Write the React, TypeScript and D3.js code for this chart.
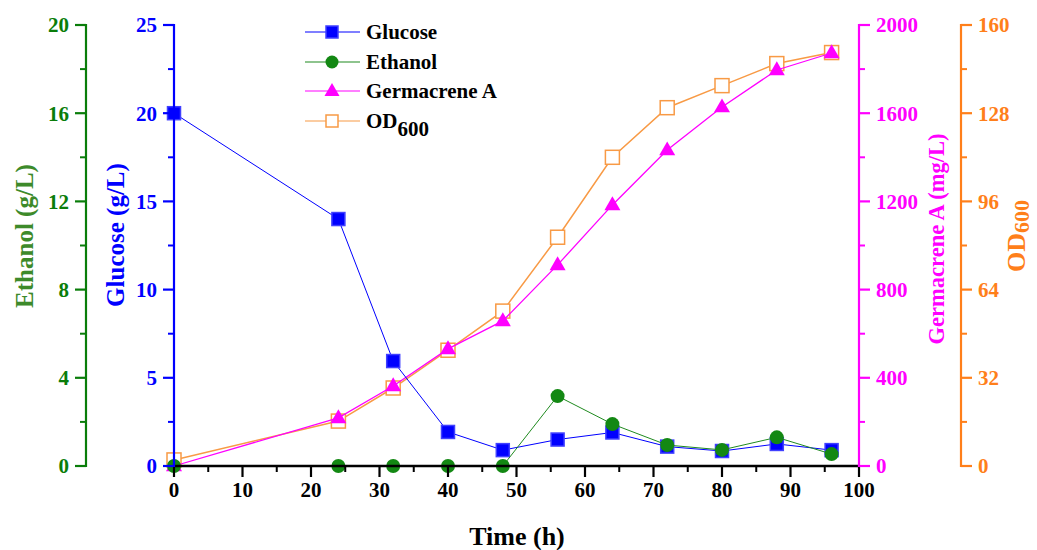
import React from "react";
import * as d3 from "d3";

const time = [0, 24, 32, 40, 48, 56, 64, 72, 80, 88, 96];
const glucose = [20.0, 14.0, 5.95, 1.93, 0.9, 1.5, 1.9, 1.1, 0.85, 1.25, 0.9];
const ethanol = [0, 0, 0, 0, 0, 3.17, 1.9, 0.95, 0.73, 1.3, 0.54];
const germacrene = [0, 218, 363, 531, 658, 912, 1184, 1433, 1628, 1796, 1873];
const od600 = [2.2, 16.3, 28.3, 42, 56.2, 83, 112, 130, 138, 146, 150];

const xTicks = [0, 10, 20, 30, 40, 50, 60, 70, 80, 90, 100];
const glucoseTicks = [0, 5, 10, 15, 20, 25];
const ethanolTicks = [0, 4, 8, 12, 16, 20];
const germTicks = [0, 400, 800, 1200, 1600, 2000];
const odTicks = [0, 32, 64, 96, 128, 160];

const FONT = "'Liberation Serif', 'Times New Roman', serif";
const BLUE = "#0000FF";
const GREEN = "#0a7d0a";
const GREEN_T = "#3d8a2a";
const MAG = "#FF00FF";
const ORANGE = "#FF7F1A";
const ORANGE_L = "#F89A45";

const X0 = 174, X1 = 859, Y0 = 466, Y1 = 25;

export default function App() {
  const x = d3.scaleLinear().domain([0, 100]).range([X0, X1]);
  const yG = d3.scaleLinear().domain([0, 25]).range([Y0, Y1]);
  const yE = d3.scaleLinear().domain([0, 20]).range([Y0, Y1]);
  const yA = d3.scaleLinear().domain([0, 2000]).range([Y0, Y1]);
  const yO = d3.scaleLinear().domain([0, 160]).range([Y0, Y1]);

  const mkLine = (vals: number[], y: d3.ScaleLinear<number, number>) =>
    d3.line<number>().x((_, i) => x(time[i])).y((v) => y(v))(vals) || "";

  const vAxis = (
    ax: number,
    y: d3.ScaleLinear<number, number>,
    ticks: number[],
    color: string,
    labelColor: string,
    side: "left" | "right"
  ) => {
    const dir = side === "left" ? -1 : 1;
    const minor: number[] = [];
    for (let i = 0; i < ticks.length - 1; i++) minor.push((ticks[i] + ticks[i + 1]) / 2);
    return (
      <g>
        <line x1={ax} x2={ax} y1={Y1 - 1} y2={Y0 + 1} stroke={color} strokeWidth={2.2} />
        {ticks.map((t) => (
          <g key={"M" + t}>
            <line x1={ax} x2={ax + dir * 11} y1={y(t)} y2={y(t)} stroke={color} strokeWidth={2.2} />
            <text
              x={ax + dir * 17}
              y={y(t)}
              dy="0.35em"
              textAnchor={side === "left" ? "end" : "start"}
              fill={labelColor}
              fontSize={21}
              fontWeight="bold"
              fontFamily={FONT}
            >
              {t}
            </text>
          </g>
        ))}
        {minor.map((t) => (
          <line key={"m" + t} x1={ax} x2={ax + dir * 6} y1={y(t)} y2={y(t)} stroke={color} strokeWidth={2} />
        ))}
      </g>
    );
  };

  const square = (cx: number, cy: number, fill: string, stroke: string, key: string | number, s = 13) => (
    <rect key={key} x={cx - s / 2} y={cy - s / 2} width={s} height={s} fill={fill} stroke={stroke} strokeWidth={1.5} />
  );
  const triangle = (cx: number, cy: number, key: string | number, s = 16) => {
    const h = s * 0.87;
    return (
      <path
        key={key}
        d={`M${cx},${cy - h * 0.62} L${cx + s / 2},${cy + h * 0.38} L${cx - s / 2},${cy + h * 0.38} Z`}
        fill={MAG}
      />
    );
  };

  const legendY = [32, 62, 91, 121];
  const legendItems = ["Glucose", "Ethanol", "Germacrene A"];

  const xMinor = [5, 15, 25, 35, 45, 55, 65, 75, 85, 95];

  return (
    <svg width={1037} height={550} style={{ position: "absolute", left: 0, top: 0, background: "#fff" }}>
      {/* OD600 */}
      <path d={mkLine(od600, yO)} fill="none" stroke={ORANGE_L} strokeWidth={1.5} />
      {od600.map((v, i) => square(x(time[i]), yO(v), "#fff", ORANGE_L, "o" + i, 14))}
      {/* Germacrene */}
      <path d={mkLine(germacrene, yA)} fill="none" stroke={MAG} strokeWidth={1.3} />
      {germacrene.map((v, i) => triangle(x(time[i]), yA(v), "a" + i))}
      {/* Glucose */}
      <path d={mkLine(glucose, yG)} fill="none" stroke={BLUE} strokeWidth={1} />
      {glucose.map((v, i) => square(x(time[i]), yG(v), BLUE, "#4040ff", "g" + i, 13))}
      {/* Ethanol */}
      <path d={mkLine(ethanol, yE)} fill="none" stroke="#1f8a1f" strokeWidth={1} />
      {ethanol.map((v, i) => (
        <circle key={"e" + i} cx={x(time[i])} cy={yE(v)} r={7} fill="#138813" />
      ))}

      {/* X axis */}
      <line x1={X0 - 1} x2={X1 + 1} y1={Y0} y2={Y0} stroke="#000" strokeWidth={2.5} />
      {xTicks.map((t) => (
        <g key={"x" + t}>
          <line x1={x(t)} x2={x(t)} y1={Y0} y2={Y0 + 11} stroke="#000" strokeWidth={2.2} />
          <text x={x(t)} y={Y0 + 31} textAnchor="middle" fontSize={21} fontWeight="bold" fontFamily={FONT} fill="#000">
            {t}
          </text>
        </g>
      ))}
      {xMinor.map((t) => (
        <line key={"xm" + t} x1={x(t)} x2={x(t)} y1={Y0} y2={Y0 + 6} stroke="#000" strokeWidth={2} />
      ))}
      <text x={517} y={545} textAnchor="middle" fontSize={26} fontWeight="bold" fontFamily={FONT} fill="#000">
        Time (h)
      </text>

      {vAxis(86, yE, ethanolTicks, GREEN, GREEN, "left")}
      {vAxis(X0, yG, glucoseTicks, BLUE, BLUE, "left")}
      {vAxis(X1, yA, germTicks, MAG, MAG, "right")}
      {vAxis(961, yO, odTicks, ORANGE, ORANGE, "right")}

      {/* Axis titles */}
      <text transform={`translate(33,236) rotate(-90)`} textAnchor="middle" fontSize={25} fontWeight="bold" fontFamily={FONT} fill={GREEN_T}>
        Ethanol (g/L)
      </text>
      <text transform={`translate(124,235) rotate(-90)`} textAnchor="middle" fontSize={25} fontWeight="bold" fontFamily={FONT} fill={BLUE}>
        Glucose (g/L)
      </text>
      <text transform={`translate(944,239) rotate(-90)`} textAnchor="middle" fontSize={22.5} fontWeight="bold" fontFamily={FONT} fill={MAG}>
        Germacrene A (mg/L)
      </text>
      <text transform={`translate(1025,272) rotate(-90)`} textAnchor="start" fontSize={26} fontWeight="bold" fontFamily={FONT} fill={ORANGE}>
        OD<tspan fontSize={22} dy={4}>600</tspan>
      </text>

      {/* Legend */}
      {legendY.map((ly, i) => {
        const colors = [BLUE, "#1f8a1f", MAG, ORANGE_L];
        return (
          <g key={"l" + i}>
            <line x1={305} x2={360} y1={ly} y2={ly} stroke={colors[i]} strokeWidth={1.2} />
            {i === 0 && square(332, ly, BLUE, "#4040ff", "lg", 12)}
            {i === 1 && <circle cx={332} cy={ly} r={6.5} fill="#138813" />}
            {i === 2 && triangle(332, ly, "la", 15)}
            {i === 3 && square(332, ly, "#fff", ORANGE_L, "lo", 12)}
            <text x={366} y={ly} dy="0.35em" fontSize={21} fontWeight="bold" fontFamily={FONT} fill="#000">
              {i < 3 ? legendItems[i] : <>OD<tspan dy={8}>600</tspan></>}
            </text>
          </g>
        );
      })}
    </svg>
  );
}
